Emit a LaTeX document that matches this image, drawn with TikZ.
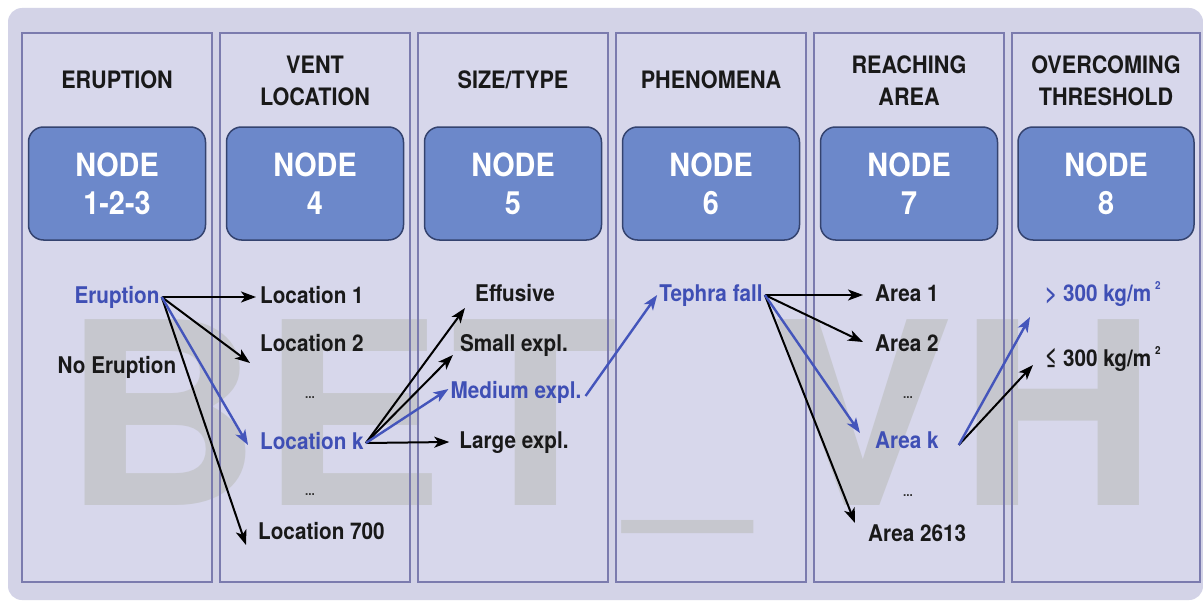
\documentclass[tikz,border=0pt]{standalone}
\usepackage{fontspec}
\usepackage{graphicx}
\setmainfont{TeX Gyre Heros}
\newfontfamily\bsans{texgyreheros-bold.otf}[FakeStretch=0.9]
\newfontfamily\wmfont{texgyreheros-bold.otf}[FakeStretch=1.08]
\usetikzlibrary{arrows.meta}
\definecolor{bgc}{HTML}{D3D3E7}
\definecolor{colfill}{HTML}{D7D7EB}
\definecolor{colline}{HTML}{7B7BAE}
\definecolor{boxfill}{HTML}{6C88CA}
\definecolor{boxline}{HTML}{34436F}
\definecolor{bluetxt}{HTML}{3F4FB5}
\definecolor{bluearr}{HTML}{4455BB}
\definecolor{wmgrey}{HTML}{C6C7CE}
\tikzset{
  colbox/.style={draw=colline, line width=1.4pt, fill=colfill, minimum width=190pt, minimum height=549pt, inner sep=0pt},
  colborder/.style={draw=colline, line width=1.4pt, minimum width=190pt, minimum height=549pt, inner sep=0pt},
  hdr/.style={font=\bsans\fontsize{24}{32}\selectfont, align=center, text=black!90},
  nodebox/.style={draw=boxline, line width=1.5pt, fill=boxfill, rounded corners=15pt, minimum width=177pt, minimum height=113pt, align=center, text=white, font=\bsans\fontsize{32}{38}\selectfont},
  lbl/.style={font=\bsans\fontsize{23}{23}\selectfont, text height=17pt, text depth=5pt, inner sep=2pt, text=black!90},
  blbl/.style={lbl, text=bluetxt},
  dotsl/.style={font=\bsans\fontsize{13}{13}\selectfont, text=black!80},
  wm/.style={font=\wmfont\fontsize{255}{255}\selectfont, text=wmgrey, anchor=base, inner sep=0pt},
  arr/.style={line width=2pt, black, -{Stealth[length=15pt, width=11pt, inset=4pt]}},
  barr/.style={arr, bluearr, line width=2.4pt}
}
\begin{document}
\begin{tikzpicture}[x=1pt, y=-1pt]
\useasboundingbox (0,0) rectangle (1203,602);
\fill[white] (0,0) rectangle (1203,602);
\fill[bgc, rounded corners=14pt] (8,8) rectangle (1203,600);
% columns
\node[colbox] (c1) at (117,307.5) {};
\node[colbox] (c2) at (315,307.5) {};
\node[colbox] (c3) at (513,307.5) {};
\node[colbox] (c4) at (711,307.5) {};
\node[colbox] (c5) at (909,307.5) {};
\node[colbox, minimum width=188pt] (c6) at (1106,307.5) {};
% watermark
\node[wm] (w1) at (162,505) {B};
\node[wm] (w2) at (352,505) {E};
\node[wm] (w3) at (535,505) {T};
\node[wm] (w4) at (688,497) {\scalebox{0.8}[0.75]{\_}};
\node[wm] (w5) at (862,505) {V};
\node[wm] (w6) at (1058,505) {H};
% column borders again on top of the watermark
\node[colborder] at (c1) {};
\node[colborder] at (c2) {};
\node[colborder] at (c3) {};
\node[colborder] at (c4) {};
\node[colborder] at (c5) {};
\node[colborder, minimum width=188pt] at (c6) {};
% headers
\node[hdr] (h1) at (117,80) {ERUPTION};
\node[hdr] (h2) at (315,81) {VENT\\LOCATION};
\node[hdr] (h3) at (513,80) {SIZE/TYPE};
\node[hdr] (h4) at (711,80) {PHENOMENA};
\node[hdr] (h5) at (909,81) {REACHING\\AREA};
\node[hdr] (h6) at (1106,81) {OVERCOMING\\THRESHOLD};
% node boxes
\node[nodebox] (n1) at (117,183.5) {NODE\\1-2-3};
\node[nodebox] (n2) at (315,183.5) {NODE\\4};
\node[nodebox] (n3) at (513,183.5) {NODE\\5};
\node[nodebox] (n4) at (711,183.5) {NODE\\6};
\node[nodebox] (n5) at (909,183.5) {NODE\\7};
\node[nodebox, minimum width=176pt] (n6) at (1106,183.5) {NODE\\8};
% column 1
\node[blbl] (erupt) at (117,297) {Eruption};
\node[lbl] (noerupt) at (117,367) {No Eruption};
% column 2
\node[lbl, anchor=west] (loc1) at (258,297) {Location 1};
\node[lbl, anchor=west] (loc2) at (258,345) {Location 2};
\node[dotsl] (d1) at (310,398) {...};
\node[blbl, anchor=west] (lock) at (258,443) {Location k};
\node[dotsl] (d2) at (310,495) {...};
\node[lbl, anchor=west] (loc700) at (256,533) {Location 700};
% column 3
\node[lbl] (eff) at (515,295) {Effusive};
\node[lbl] (small) at (514,345) {Small expl.};
\node[blbl] (medium) at (516,392) {Medium expl.};
\node[lbl] (large) at (514,442) {Large expl.};
% column 4
\node[blbl] (tephra) at (711,295) {Tephra fall};
% column 5
\node[lbl, anchor=west] (area1) at (873,295) {Area 1};
\node[lbl, anchor=west] (area2) at (873,345) {Area 2};
\node[dotsl] (d3) at (908,398) {...};
\node[blbl, anchor=west] (areak) at (873,442) {Area k};
\node[dotsl] (d4) at (908,496) {...};
\node[lbl, anchor=west] (area2613) at (866,535) {Area 2613};
% column 6
\node[blbl, anchor=west] (gt) at (1043,295) {> 300 kg/m\,\raisebox{0.5em}{\fontsize{11}{11}\selectfont 2}};
\node[lbl, anchor=west] (le) at (1043,360) {≤ 300 kg/m\,\raisebox{0.5em}{\fontsize{11}{11}\selectfont 2}};
% arrows column 1 -> 2
\draw[arr] (erupt.east) -- ([xshift=-2pt]loc1.west);
\draw[arr] (erupt.east) -- ([shift={(-8,18)}]loc2.west);
\draw[arr] (erupt.east) -- ([shift={(-10,12)}]loc700.west);
\draw[barr] (erupt.east) -- ([shift={(-10,2)}]lock.west);
% arrows column 2 -> 3
\draw[arr] (lock.east) -- ([shift={(-8,13)}]eff.west);
\draw[arr] (lock.east) -- ([shift={(-5,10)}]small.west);
\draw[arr] (lock.east) -- ([xshift=-8pt]large.west);
\draw[barr] (lock.east) -- ([shift={(0,-3)}]medium.west);
% column 3 -> 4
\draw[barr] ([shift={(2,4)}]medium.east) -- (tephra.west);
% column 4 -> 5
\draw[arr] (tephra.east) -- ([xshift=-10pt]area1.west);
\draw[arr] (tephra.east) -- ([shift={(-10,-3)}]area2.west);
\draw[arr] (tephra.east) -- ([shift={(-11,-12)}]area2613.west);
\draw[barr] (tephra.east) -- ([shift={(-13,-9)}]areak.west);
% column 5 -> 6
\draw[arr] ([shift={(18,3)}]areak.east) -- ([shift={(-10,5)}]le.west);
\draw[barr] ([shift={(18,3)}]areak.east) -- ([shift={(-13,22)}]gt.west);
\end{tikzpicture}
\end{document}
